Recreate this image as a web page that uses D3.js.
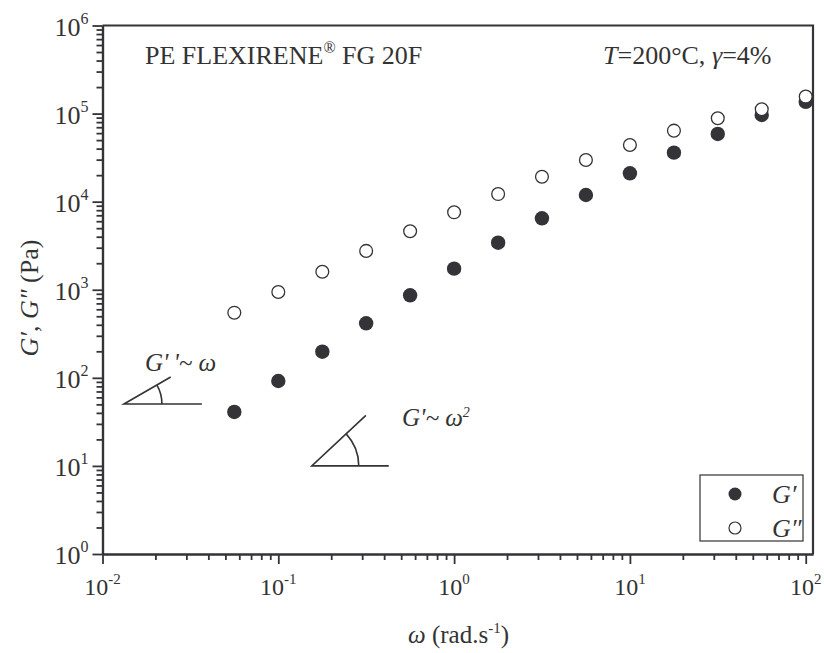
<!DOCTYPE html>
<html><head><meta charset="utf-8">
<script src="https://cdn.jsdelivr.net/npm/d3@7"></script>
<style>
body{margin:0;background:#fff}
text{font-family:"Liberation Serif","Times New Roman",serif;fill:#333}
</style>
</head><body><svg id="c" width="824" height="653"></svg>
<script>
// ---- data ----
const omega   = [0.0562,0.1,0.178,0.316,0.562,1,1.78,3.16,5.62,10,17.8,31.6,56.2,100];
const gPrime  = [41,92,198,416,865,1735,3420,6470,11900,21000,36000,58700,96400,136000];
const gDouble = [549,944,1600,2760,4610,7570,12200,19200,29700,44000,64000,88500,112000,156000];
const xTickExps = [-2,-1,0,1,2];
const yTickExps = [0,1,2,3,4,5,6];
const seriesNames = ["G\u2032","G\u2033"];
const titleMain = "PE FLEXIRENE";
const titleRest = " FG 20F";

const ink = "#333338";
const svg = d3.select("#c");
const m = {l:102.5, r:813, t:25.5, b:554};

const x = d3.scaleLog().domain([0.01,110]).range([m.l,m.r]);
const y = d3.scaleLog().domain([1,1e6]).range([m.b,m.t]);

function minorTicks(scale){
  const [a,b] = scale.domain();
  const out=[];
  for(let e=Math.floor(Math.log10(a)); e<=Math.ceil(Math.log10(b)); e++){
    for(let k=2;k<=9;k++){const v=k*Math.pow(10,e); if(v>=a && v<=b) out.push(v);}
  }
  return out;
}
const xMaj = xTickExps.map(e=>Math.pow(10,e));
const yMaj = yTickExps.map(e=>Math.pow(10,e));

// frame (top / right)
svg.append("path").attr("d",`M${m.l},${m.t}H${m.r}V${m.b}`)
  .attr("fill","none").attr("stroke",ink).attr("stroke-width",2.2);

// axes
svg.append("g").attr("transform",`translate(0,${m.b})`)
  .call(d3.axisBottom(x).tickValues(minorTicks(x)).tickSize(6).tickSizeOuter(0).tickFormat(""));
svg.append("g").attr("transform",`translate(0,${m.b})`)
  .call(d3.axisBottom(x).tickValues(xMaj).tickSize(10).tickSizeOuter(0).tickFormat(""));
svg.append("g").attr("transform",`translate(${m.l},0)`)
  .call(d3.axisLeft(y).tickValues(minorTicks(y)).tickSize(6).tickSizeOuter(0).tickFormat(""));
svg.append("g").attr("transform",`translate(${m.l},0)`)
  .call(d3.axisLeft(y).tickValues(yMaj).tickSize(10).tickSizeOuter(0).tickFormat(""));
svg.selectAll(".domain").attr("stroke",ink).attr("stroke-width",2.2);
svg.selectAll(".tick line").attr("stroke",ink).attr("stroke-width",1.8);

// tick labels
xTickExps.forEach(e=>{
  const t = svg.append("text").attr("x",x(Math.pow(10,e))).attr("y",m.b+41)
    .attr("text-anchor","middle").attr("font-size",24);
  t.append("tspan").text("10");
  t.append("tspan").attr("font-size",15).attr("dy",-11).text(String(e));
});
yTickExps.forEach(e=>{
  const t = svg.append("text").attr("x",m.l-14).attr("y",y(Math.pow(10,e))+10)
    .attr("text-anchor","end").attr("font-size",26);
  t.append("tspan").text("10");
  t.append("tspan").attr("font-size",16).attr("dy",-12).text(String(e));
});

// axis titles
const xt = svg.append("text").attr("x",408).attr("y",643).attr("font-size",25);
xt.append("tspan").attr("font-style","italic").text("\u03c9");
xt.append("tspan").text(" (rad.s");
xt.append("tspan").attr("font-size",15).attr("dy",-10).text("-1");
xt.append("tspan").attr("dy",10).text(")");

const yt = svg.append("text").attr("transform","translate(38,298) rotate(-90)").attr("text-anchor","middle").attr("font-size",26);
yt.append("tspan").attr("font-style","italic").text("G\u2032");
yt.append("tspan").text(", ");
yt.append("tspan").attr("font-style","italic").text("G\u2033");
yt.append("tspan").text(" (Pa)");

// data points
svg.append("g").selectAll("circle").data(omega.map((w,i)=>[w,gPrime[i]])).join("circle")
  .attr("cx",d=>x(d[0])).attr("cy",d=>y(d[1])).attr("r",7.2).attr("fill",ink);
svg.append("g").selectAll("circle").data(omega.map((w,i)=>[w,gDouble[i]])).join("circle")
  .attr("cx",d=>x(d[0])).attr("cy",d=>y(d[1])).attr("r",6.4).attr("fill","#fff")
  .attr("stroke",ink).attr("stroke-width",1.3);

// title texts
const tt = svg.append("text").attr("x",145).attr("y",64).attr("font-size",26);
tt.append("tspan").text(titleMain);
tt.append("tspan").attr("font-size",16).attr("dy",-11).text("\u00ae");
tt.append("tspan").attr("dy",11).text(titleRest);

const tc = svg.append("text").attr("x",603).attr("y",64).attr("font-size",26);
tc.append("tspan").attr("font-style","italic").text("T");
tc.append("tspan").text("=200\u00b0C, ");
tc.append("tspan").attr("font-style","italic").text("\u03b3");
tc.append("tspan").text("=4%");

// slope triangles (anchored in data space)
function slopeMark(w0, g0, lenH, lenS, angDeg, rad){
  const x0 = x(w0), y0 = y(g0), a = angDeg*Math.PI/180;
  const g = svg.append("g").attr("fill","none").attr("stroke",ink).attr("stroke-width",1.6);
  g.append("path").attr("d",`M${x0+lenH},${y0}H${x0}L${x0+lenS*Math.cos(a)},${y0-lenS*Math.sin(a)}`);
  g.append("path").attr("d",`M${x0+rad*Math.cos(a)},${y0-rad*Math.sin(a)}A${rad},${rad} 0 0 1 ${x0+rad},${y0}`);
}
slopeMark(0.01324, 50.5, 78, 54, 30, 38);
slopeMark(0.155, 10, 77, 74, 43, 47);

svg.append("text").attr("x",145).attr("y",371).attr("font-size",25).attr("font-style","italic").text("G'\u2009'~ \u03c9");
const a2 = svg.append("text").attr("x",402).attr("y",426).attr("font-size",25).attr("font-style","italic");
a2.append("tspan").text("G'~ \u03c9");
a2.append("tspan").attr("font-size",14).attr("dy",-9).text("2");

// legend
svg.append("rect").attr("x",700).attr("y",475).attr("width",103).attr("height",66)
  .attr("fill","#fff").attr("stroke",ink).attr("stroke-width",1.2);
svg.append("circle").attr("cx",735).attr("cy",494).attr("r",6.5).attr("fill",ink);
svg.append("circle").attr("cx",735).attr("cy",528).attr("r",6).attr("fill","#fff").attr("stroke",ink).attr("stroke-width",1.2);
svg.append("text").attr("x",772).attr("y",503).attr("font-size",26).attr("font-style","italic").text(seriesNames[0]);
svg.append("text").attr("x",772).attr("y",537).attr("font-size",26).attr("font-style","italic").text(seriesNames[1]);
</script>
</body></html>
